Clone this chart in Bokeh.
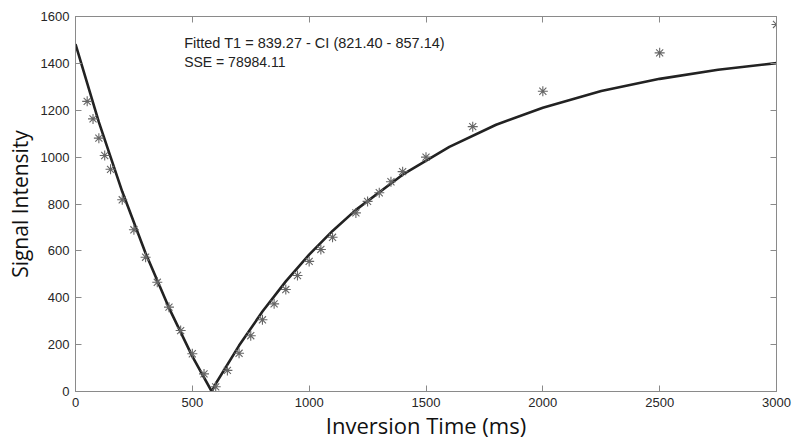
from bokeh.plotting import figure
from bokeh.models import LinearAxis, FixedTicker, Range1d, Label
from bokeh.embed import file_html
from bokeh.resources import INLINE

# Measured data (inversion time in ms, signal intensity)
ti_ms = [50, 75, 100, 125, 150, 200, 250, 300, 350, 400, 450, 500, 550, 600,
         650, 700, 750, 800, 850, 900, 950, 1000, 1050, 1100, 1200, 1250, 1300,
         1350, 1400, 1500, 1700, 2000, 2500, 3000]
signal = [1238, 1163, 1081, 1007, 948, 818, 690, 573, 466, 360, 260, 161, 75, 20,
          90, 163, 238, 306, 374, 435, 495, 555, 606, 658, 762, 811, 848,
          895, 938, 1000, 1130, 1281, 1445, 1566]

# Fitted curve
fit_t = [0, 100, 200, 300, 400, 500, 583, 600, 700, 800, 900, 1000, 1100, 1200,
         1400, 1600, 1800, 2000, 2250, 2500, 2750, 3000]
fit_v = [1482, 1149, 853, 590, 357, 150, 0, 33, 196, 341, 470, 584, 685, 775,
         925, 1044, 1138, 1211, 1282, 1334, 1373, 1401]

x_ticks = [0, 500, 1000, 1500, 2000, 2500, 3000]
y_ticks = [0, 200, 400, 600, 800, 1000, 1200, 1400, 1600]

annot_fit = "Fitted T1 = 839.27 - CI (821.40 - 857.14)"
annot_sse = "SSE = 78984.11"

p = figure(frame_width=701, frame_height=375, output_backend="svg",
           toolbar_location=None,
           x_range=Range1d(0, 3000), y_range=Range1d(0, 1600),
           min_border_left=75, min_border_right=17, min_border_top=16,
           min_border_bottom=48)
p.background_fill_color = "white"
p.border_fill_color = "white"
p.outline_line_color = "#8a8a8a"
p.outline_line_width = 1
p.xgrid.visible = False
p.ygrid.visible = False

p.line(fit_t, fit_v, line_color="#222222", line_width=2.6)
p.scatter(ti_ms, signal, marker="asterisk", size=10, line_color="#666666",
          line_width=1.1)

tick_font = "Liberation Sans"
for ax in [p.xaxis[0], p.yaxis[0]]:
    ax.axis_line_color = "#8a8a8a"
    ax.major_tick_line_color = "#8a8a8a"
    ax.major_tick_in = 6
    ax.major_tick_out = 0
    ax.minor_tick_line_color = None
    ax.major_label_text_font = tick_font
    ax.major_label_text_font_size = "13px"
    ax.major_label_text_color = "#262626"
    ax.axis_label_text_font = "Open Sans"
    ax.axis_label_text_font_style = "normal"
    ax.axis_label_text_color = "#111111"

p.xaxis[0].major_label_standoff = 6
p.yaxis[0].major_label_standoff = 6
p.xaxis[0].axis_label_text_font_size = "22px"
p.yaxis[0].axis_label_text_font_size = "21px"
p.xaxis[0].ticker = FixedTicker(ticks=x_ticks)
p.yaxis[0].ticker = FixedTicker(ticks=y_ticks)
p.xaxis[0].axis_label = "Inversion Time (ms)"
p.yaxis[0].axis_label = "Signal Intensity"
p.xaxis[0].axis_label_standoff = 0
p.yaxis[0].axis_label_standoff = 4

top = LinearAxis(ticker=FixedTicker(ticks=x_ticks),
                 major_label_overrides={t: "" for t in x_ticks})
right = LinearAxis(ticker=FixedTicker(ticks=y_ticks),
                   major_label_overrides={t: "" for t in y_ticks})
for ax in [top, right]:
    ax.axis_line_color = "#8a8a8a"
    ax.major_tick_line_color = "#8a8a8a"
    ax.major_tick_in = 6
    ax.major_tick_out = 0
    ax.minor_tick_line_color = None
    ax.major_label_text_font_size = "1px"
    ax.major_label_standoff = 0
p.add_layout(top, "above")
p.add_layout(right, "right")

p.add_layout(Label(x=465, y=1489, text=annot_fit, text_font=tick_font,
                   text_font_size="14.5px", text_color="#222222",
                   text_baseline="middle"))
p.add_layout(Label(x=465, y=1404, text=annot_sse, text_font=tick_font,
                   text_font_size="14px", text_color="#222222",
                   text_baseline="middle"))

open("out.html", "w").write(file_html(p, INLINE))
